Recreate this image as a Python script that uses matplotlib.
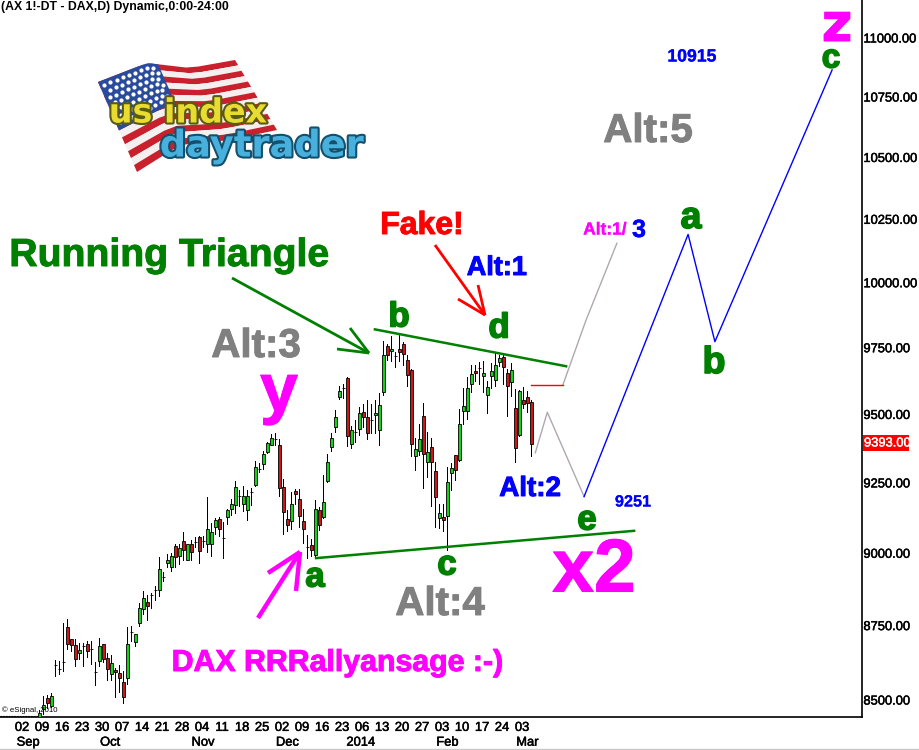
import numpy as np
import matplotlib
matplotlib.use("Agg")
import matplotlib.pyplot as plt
import matplotlib.patheffects as pe
from matplotlib.lines import Line2D
from matplotlib.patches import Polygon, Rectangle

W, H = 919, 750

opens = [8444, 8471, 8506, 8480, 8618, 8605, 8628, 8746, 8705, 8685,
         8657, 8681, 8686, 8670, 8594, 8630, 8686, 8641, 8587, 8600,
         8590, 8560, 8573, 8727, 8694, 8758, 8807, 8831, 8854, 8872,
         8871, 8917, 8965, 8953, 9024, 8991, 9043, 8977, 9034, 9040,
         9056, 9043, 9034, 9034, 9091, 9120, 9054, 9128, 9155, 9169,
         9202, 9176, 9152, 9217, 9244, 9302, 9318, 9361, 9386, 9409,
         9386, 9235, 9120, 9113, 9220, 9192, 9113, 9023, 9028, 8995,
         9152, 9128, 9256, 9381, 9452, 9565, 9600, 9635, 9390, 9437,
         9448, 9510, 9492, 9478, 9498, 9443, 9582, 9756, 9737, 9718,
         9745, 9764, 9705, 9664, 9347, 9364, 9495, 9325, 9379, 9292,
         9124, 9127, 9130, 9287, 9350, 9332, 9514, 9514, 9612, 9662,
         9672, 9642, 9571, 9645, 9630, 9697, 9713, 9653, 9619, 9525,
         9425, 9555, 9565, 9547]
highs = [8466, 8514, 8517, 8523, 8633, 8630, 8759, 8774, 8705, 8705,
         8691, 8691, 8697, 8699, 8627, 8708, 8689, 8658, 8652, 8607,
         8618, 8596, 8746, 8748, 8722, 8828, 8870, 8854, 8862, 8885,
         8987, 8934, 8999, 9001, 9032, 9034, 9076, 9034, 9046, 9058,
         9061, 9061, 9199, 9108, 9126, 9127, 9111, 9156, 9193, 9257,
         9225, 9238, 9223, 9231, 9330, 9321, 9366, 9400, 9429, 9430,
         9408, 9263, 9154, 9217, 9228, 9228, 9156, 9063, 9049, 9189,
         9163, 9279, 9354, 9432, 9515, 9607, 9615, 9640, 9459, 9478,
         9527, 9537, 9555, 9537, 9552, 9578, 9777, 9763, 9793, 9735,
         9797, 9771, 9723, 9668, 9412, 9466, 9542, 9434, 9412, 9327,
         9175, 9175, 9309, 9321, 9351, 9521, 9600, 9640, 9686, 9686,
         9695, 9698, 9625, 9692, 9733, 9723, 9729, 9670, 9692, 9594,
         9591, 9603, 9588, 9552]
lows = [8444, 8455, 8472, 8478, 8579, 8588, 8596, 8669, 8663, 8613,
        8637, 8615, 8644, 8621, 8551, 8613, 8627, 8568, 8568, 8511,
        8525, 8489, 8553, 8697, 8680, 8748, 8788, 8768, 8810, 8839,
        8850, 8902, 8951, 8939, 8953, 8962, 8978, 8976, 8978, 9022,
        8967, 9023, 9005, 8991, 9068, 9061, 8984, 9104, 9136, 9144,
        9166, 9148, 9118, 9172, 9239, 9290, 9301, 9358, 9386, 9389,
        9204, 9068, 9080, 9087, 9175, 9094, 9037, 8984, 8990, 8987,
        9082, 9124, 9254, 9367, 9436, 9557, 9561, 9385, 9378, 9397,
        9424, 9454, 9411, 9432, 9432, 9388, 9574, 9705, 9699, 9678,
        9699, 9683, 9604, 9348, 9295, 9351, 9231, 9273, 9168, 9094,
        9088, 9079, 9011, 9225, 9261, 9331, 9466, 9483, 9582, 9625,
        9615, 9582, 9505, 9600, 9604, 9680, 9615, 9494, 9570, 9324,
        9421, 9523, 9509, 9349]
closes = [8457, 8482, 8491, 8514, 8618, 8605, 8628, 8687, 8684, 8637,
          8668, 8681, 8664, 8670, 8594, 8681, 8637, 8603, 8624, 8592,
          8573, 8509, 8688, 8727, 8722, 8810, 8845, 8817, 8854, 8872,
          8944, 8917, 8975, 8989, 8987, 9020, 9013, 9031, 9005, 9040,
          9008, 9043, 9085, 9074, 9117, 9087, 9054, 9152, 9174, 9235,
          9202, 9202, 9202, 9217, 9307, 9302, 9354, 9394, 9412, 9409,
          9233, 9145, 9098, 9174, 9210, 9133, 9085, 9023, 9012, 9156,
          9101, 9181, 9325, 9412, 9492, 9587, 9600, 9422, 9441, 9437,
          9506, 9490, 9430, 9478, 9506, 9536, 9723, 9723, 9745, 9718,
          9733, 9727, 9646, 9390, 9372, 9408, 9354, 9361, 9327, 9199,
          9142, 9117, 9252, 9303, 9297, 9466, 9533, 9598, 9650, 9656,
          9672, 9653, 9602, 9662, 9686, 9710, 9679, 9604, 9664, 9378,
          9587, 9539, 9543, 9393]

price_ticks = [8500, 8750, 9000, 9250, 9500, 9750, 10000, 10250, 10500, 10750, 11000]
day_labels = ["02", "09", "16", "23", "30", "07", "14", "21", "28", "04", "11", "18", "25",
              "02", "09", "16", "23", "06", "13", "20", "27", "03", "10", "17", "24", "03"]
month_labels = ["Sep", "Oct", "Nov", "Dec", "2014", "Feb", "Mar"]
month_bars = [-2.8, 17.7, 40.9, 62.0, 80.4, 102.0, 122.0]

# wave count drawn on top of the candles (bar number, price)
gray_bars, gray_prices = [124, 127, 136.2], [9359, 9508, 9201]
blue_bars, blue_prices = [136.2, 162.2, 168.9, 198.2], [9201, 10190, 9773, 10864]
red_bars, red_prices = [122.9, 130.9], [9610, 9610]
alt1_bars, alt1_prices = [130.9, 136.6, 144.4], [9610, 9852, 10155]
upper_bars, upper_prices = [83.9, 131.7], [9820, 9680]
lower_bars, lower_prices = [69.2, 148.7], [8983, 9079]

GREEN = "#008000"
MAGENTA = "#ff00ff"
BLUE = "#0000ff"
GRAY = "#808080"
FONT = "Liberation Sans"

plt.rcParams["font.family"] = FONT

fig = plt.figure(figsize=(W / 100, H / 100), dpi=100)
ax = fig.add_axes([0, 1 - 717 / H, 862 / W, 717 / H])

dark = [pe.withStroke(linewidth=0.35, foreground="black")]


def fx(x):
    return x / W


def fy(y):
    return 1 - y / H


def label(x, y, s, color, size, weight="bold", heavy=0.7, **kw):
    effects = [pe.withStroke(linewidth=heavy, foreground=color)] if heavy else None
    fig.text(fx(x), fy(y), s, color=color, fontsize=size, weight=weight,
             ha=kw.pop("ha", "center"), va=kw.pop("va", "center"), path_effects=effects, **kw)


def stroke(points, color, lw):
    xs = [fx(p[0]) for p in points]
    ys = [fy(p[1]) for p in points]
    fig.add_artist(Line2D(xs, ys, color=color, lw=lw, solid_capstyle="butt"))


def arrow(start, tip, barb1, barb2, color, lw):
    stroke([start, tip], color, lw)
    stroke([barb1, tip], color, lw)
    stroke([barb2, tip], color, lw)


# candles
bars = np.arange(len(opens))
o, h, l, c = map(np.array, (opens, highs, lows, closes))
ax.vlines(bars, l, h, color="black", lw=0.72, zorder=2, antialiased=False)
body_col = ["#18d018" if b >= a else "#c81818" for a, b in zip(o, c)]
ax.bar(bars, np.abs(c - o), bottom=np.minimum(o, c), width=0.62, color=body_col,
       edgecolor="black", lw=0.6, zorder=3)

ax.plot(upper_bars, upper_prices, color=GREEN, lw=1.8, zorder=4)
ax.plot(lower_bars, lower_prices, color=GREEN, lw=1.8, zorder=4)
ax.plot(gray_bars, gray_prices, color="#b0a8b0", lw=1.0, zorder=4)
ax.plot(alt1_bars, alt1_prices, color="#b0a8b0", lw=1.0, zorder=4)
ax.plot(blue_bars, blue_prices, color=BLUE, lw=1.0, zorder=4)
ax.plot(red_bars, red_prices, color="red", lw=1.0, zorder=4)

ax.set_yscale("log")
ax.set_xlim(-9.825, 205.675)
ax.set_ylim(8444, 11164)
ax.spines["top"].set_visible(False)
ax.spines["left"].set_visible(False)
ax.spines["right"].set_linewidth(1.2)
ax.spines["bottom"].set_linewidth(1.2)
ax.yaxis.tick_right()
ax.set_yticks(price_ticks)
ax.set_yticklabels([f"{p:.2f}" for p in price_ticks])
ax.minorticks_off()
ax.set_xticks(-4.3 + 5 * np.arange(len(day_labels)))
ax.set_xticklabels(day_labels)
ax.tick_params(axis="y", length=0, labelsize=9.3, pad=1)
ax.tick_params(axis="x", length=0, labelsize=9.3, pad=3.5)
for t in ax.get_xticklabels() + ax.get_yticklabels():
    t.set_path_effects(dark)
ax.set_facecolor("white")

for pos, name in zip(month_bars, month_labels):
    ax.annotate(name, (pos, 0), xycoords=("data", "axes fraction"), xytext=(0, -18.5),
                textcoords="offset points", ha="center", va="center", fontsize=9.3,
                path_effects=dark)

# last price flag
fig.add_artist(Rectangle((fx(863), fy(451)), 46 / W, 16 / H, color="red", lw=0))
label(864, 443.5, "9393.00", "white", 9.3, weight="normal", ha="left", heavy=0.3)

label(1, 7, "(AX 1!-DT - DAX,D) Dynamic,0:00-24:00", "black", 8.8, ha="left", heavy=0)
label(2, 710, "\u00a9 eSignal, 2010", "black", 5.6, weight="normal", ha="left", heavy=0)
fig.add_artist(Line2D([0, fx(38)], [fy(716), fy(716)], color="black", lw=0.8, ls=(0, (1.5, 1))))
fig.add_artist(Line2D([0, 1], [fy(749), fy(749)], color="#c8c8c8", lw=1.0))

# logo: waving flag
top_x, top_y = [98, 147, 190, 235], [82, 63, 68, 60]
bot_x, bot_y = [137, 180, 230, 277], [172, 145, 140, 130]


def flag_point(u, v):
    t = np.array([0, 1 / 3, 2 / 3, 1])
    a = np.interp(u, t, top_x), np.interp(u, t, top_y)
    b = np.interp(u, t, bot_x), np.interp(u, t, bot_y)
    return fx(a[0] + (b[0] - a[0]) * v), fy(a[1] + (b[1] - a[1]) * v)


def flag_patch(u0, u1, v0, v1, color):
    us = np.linspace(u0, u1, 12)
    pts = [flag_point(u, v0) for u in us] + [flag_point(u, v1) for u in us[::-1]]
    fig.add_artist(Polygon(pts, closed=True, facecolor=color, edgecolor="none",
                           transform=fig.transFigure, zorder=5))


for i in range(13):
    flag_patch(0, 1, i / 13, (i + 1) / 13, "#c8202c" if i % 2 == 0 else "#f4f0f0")
flag_patch(0, 0.42, 0, 7 / 13, "#2a4a9c")
for row in range(7):
    for col in range(9):
        sx, sy = flag_point(0.03 + col * 0.042 + (row % 2) * 0.02, 0.05 + row * 0.07)
        fig.add_artist(Line2D([sx], [sy], marker="o", ms=2, color="white", lw=0, zorder=6))

logo_yellow = [pe.withStroke(linewidth=3, foreground="#5a5a10")]
logo_blue = [pe.withStroke(linewidth=3, foreground="#14506e")]
fig.text(fx(188), fy(113), "us index", color="#e8dc30", fontsize=24, weight="bold",
         family="DejaVu Sans", ha="center", va="center", path_effects=logo_yellow, zorder=7)
fig.text(fx(262), fy(146), "daytrader", color="#48b0dc", fontsize=26.5, weight="bold",
         family="DejaVu Sans", ha="center", va="center", path_effects=logo_blue, zorder=7)

# annotations
label(169, 256, "Running Triangle", GREEN, 28.2)
label(422, 226, "Fake!", "red", 23)
label(497, 268, "Alt:1", BLUE, 19.5)
label(605, 230, "Alt:1/", MAGENTA, 12.5, heavy=0.2)
label(639, 230, "3", BLUE, 18, heavy=0.3)
label(692, 57, "10915", BLUE, 12.7, heavy=0.2)
label(633, 502, "9251", BLUE, 11.7, heavy=0.1)
label(530, 489, "Alt:2", BLUE, 20)
label(256, 346, "Alt:3", GRAY, 29)
label(440, 604, "Alt:4", GRAY, 29)
label(648, 131, "Alt:5", GRAY, 29)
label(279, 393, "y", MAGENTA, 49)
label(594, 572, "x2", MAGENTA, 54)
label(837, 26, "z", MAGENTA, 38, family="DejaVu Sans")
label(337, 663, "DAX RRRallyansage :-)", MAGENTA, 21.8)
for x, y, s, size in [(399, 317, "b", 25), (499, 328, "d", 25), (315, 577, "a", 25),
                      (447, 565, "c", 25), (587, 520, "e", 25), (691, 218, "a", 27),
                      (714, 363, "b", 27), (831, 59, "c", 24)]:
    label(x, y, s, GREEN, size, heavy=1.2)

arrow((232, 278), (369, 353), (337, 349), (350, 328), GREEN, 2)
arrow((435, 245), (485, 315), (458, 299), (478, 285), "red", 2)
arrow((258, 618), (300, 552), (268, 573), (296, 591), MAGENTA, 3.2)

fig.savefig("out.png", dpi=100, facecolor="white")
